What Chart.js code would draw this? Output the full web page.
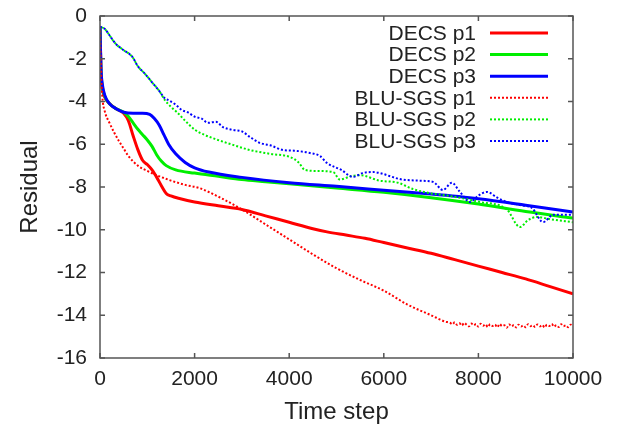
<!DOCTYPE html>
<html>
<head>
<meta charset="utf-8">
<script src="https://cdn.jsdelivr.net/npm/chart.js@4"></script>
<style>
  html, body { margin: 0; padding: 0; background: #fff; }
  #wrap { width: 621px; height: 427px; }
</style>
</head>
<body>
<div id="wrap"><canvas id="residualChart"></canvas></div>
<script>
var xTicks = [0, 2000, 4000, 6000, 8000, 10000];
var yTicks = [0, -2, -4, -6, -8, -10, -12, -14, -16];

var decsP1X = [0, 20, 50, 100, 200, 350, 500, 600, 700, 800, 900, 1000, 1100, 1200, 1300, 1400, 1500, 1700, 2000, 2500, 3000, 3500, 4000, 4500, 4800, 5200, 5600, 6000, 6500, 7000, 7500, 8000, 8500, 9000, 9500, 10000];
var decsP1Y = [-0.5, -2.6, -3.4, -3.8, -4.1, -4.35, -4.55, -4.9, -5.6, -6.25, -6.75, -6.95, -7.2, -7.55, -7.95, -8.3, -8.42, -8.55, -8.7, -8.88, -9.05, -9.35, -9.65, -9.95, -10.1, -10.25, -10.4, -10.6, -10.85, -11.1, -11.4, -11.7, -12.0, -12.3, -12.65, -13.0];

var decsP2X = [0, 20, 50, 100, 200, 350, 500, 600, 700, 800, 900, 1000, 1100, 1200, 1300, 1400, 1600, 2000, 2500, 3000, 3500, 4000, 5000, 6000, 7000, 8000, 9000, 10000];
var decsP2Y = [-0.5, -2.5, -3.3, -3.75, -4.1, -4.35, -4.5, -4.7, -5.0, -5.3, -5.55, -5.8, -6.1, -6.5, -6.8, -7.0, -7.2, -7.35, -7.5, -7.65, -7.75, -7.85, -8.05, -8.25, -8.5, -8.8, -9.15, -9.45];

var decsP3X = [0, 20, 50, 100, 200, 350, 500, 700, 900, 1050, 1150, 1250, 1350, 1450, 1600, 1800, 2000, 2300, 3000, 4000, 5000, 6000, 7000, 8000, 9000, 10000];
var decsP3Y = [-0.5, -2.4, -3.2, -3.7, -4.1, -4.35, -4.5, -4.55, -4.55, -4.6, -4.8, -5.1, -5.55, -6.0, -6.45, -6.85, -7.1, -7.3, -7.55, -7.8, -7.97, -8.15, -8.33, -8.55, -8.85, -9.17];

var bluP1X = [0, 20, 50, 100, 200, 300, 400, 500, 600, 800, 1000, 1200, 1500, 1800, 2100, 2500, 3000, 3500, 4000, 4500, 5000, 5500, 6000, 6500, 7000, 7300,
  7400, 7450, 7500, 7550, 7600, 7650, 7700, 7750, 7800, 7850, 7900, 7950, 8000, 8050, 8100, 8150, 8200, 8250, 8300, 8350, 8400, 8450, 8500, 8550,
  8600, 8650, 8700, 8750, 8800, 8850, 8900, 8950, 9000, 9050, 9100, 9150, 9200, 9250, 9300, 9350, 9400, 9450, 9500, 9550, 9600, 9650, 9700,
  9750, 9800, 9850, 9900, 9950, 10000];
var bluP1Y = [-0.5, -2.5, -3.8, -4.45, -5.0, -5.45, -5.85, -6.2, -6.55, -7.0, -7.25, -7.45, -7.7, -7.9, -8.05, -8.45, -9.05, -9.75, -10.45, -11.15, -11.8, -12.35, -12.85, -13.5, -14.0, -14.3,
  -14.35, -14.42, -14.33, -14.45, -14.38, -14.48, -14.36, -14.44, -14.52, -14.39, -14.47, -14.41, -14.53, -14.40, -14.49, -14.43, -14.55, -14.42, -14.50, -14.44, -14.56, -14.41, -14.51, -14.47,
  -14.58, -14.43, -14.52, -14.46, -14.57, -14.44, -14.53, -14.48, -14.56, -14.42, -14.51, -14.47, -14.55, -14.43, -14.52, -14.46, -14.57, -14.44, -14.50, -14.41, -14.53, -14.46, -14.55,
  -14.42, -14.51, -14.47, -14.56, -14.44, -14.50];

var bluP2X = [0, 100, 200, 320, 500, 680, 800, 950, 1100, 1250, 1370, 1500, 1650, 1800, 2010, 2200, 2430, 2700, 3170, 3600, 4020, 4200, 4330, 4600, 4930, 5070, 5300, 5500, 5900, 6300, 6620, 7000, 7340, 8030, 8600, 8880, 9050, 9240, 9500, 10000];
var bluP2Y = [-0.5, -0.6, -0.9, -1.27, -1.6, -1.9, -2.35, -2.7, -3.1, -3.5, -3.93, -4.25, -4.55, -4.9, -5.33, -5.55, -5.75, -5.95, -6.27, -6.45, -6.6, -6.85, -7.2, -7.25, -7.3, -7.65, -7.5, -7.45, -7.7, -7.8, -8.1, -8.3, -8.4, -8.7, -9.05, -9.87, -9.55, -9.4, -9.5, -9.65];

var bluP3X = [0, 100, 200, 320, 500, 680, 800, 950, 1100, 1250, 1370, 1440, 1600, 1730, 1850, 2010, 2150, 2280, 2450, 2600, 2810, 3000, 3170, 3380, 3600, 3870, 4100, 4440, 4650, 4800, 5100, 5350, 5550, 5770, 5920, 6340, 6700, 7040, 7250, 7440, 7600, 7820, 8000, 8180, 8400, 8600, 8900, 9130, 9370, 9580, 10000];
var bluP3Y = [-0.5, -0.6, -0.9, -1.27, -1.6, -1.9, -2.35, -2.7, -3.1, -3.5, -3.85, -3.93, -4.15, -4.4, -4.5, -4.72, -4.8, -5.0, -4.95, -5.2, -5.33, -5.4, -5.66, -5.94, -6.05, -6.27, -6.3, -6.41, -6.55, -6.88, -7.2, -7.53, -7.35, -7.3, -7.35, -7.63, -7.7, -7.76, -8.14, -7.8, -8.2, -8.7, -8.4, -8.23, -8.5, -8.7, -8.85, -8.98, -9.64, -9.3, -9.3];

var seriesLabels = ['DECS p1', 'DECS p2', 'DECS p3', 'BLU-SGS p1', 'BLU-SGS p2', 'BLU-SGS p3'];
var seriesColors = ['#ff0000', '#00ee00', '#0000ff', '#ff0000', '#00ee00', '#0000ff'];

function toPoints(xs, ys) {
  return xs.map(function (x, i) { return { x: x, y: ys[i] }; });
}

var seriesData = [
  toPoints(decsP1X, decsP1Y),
  toPoints(decsP2X, decsP2Y),
  toPoints(decsP3X, decsP3Y),
  toPoints(bluP1X, bluP1Y),
  toPoints(bluP2X, bluP2Y),
  toPoints(bluP3X, bluP3Y)
];

var datasets = seriesData.map(function (pts, i) {
  var dotted = i >= 3;
  return {
    label: seriesLabels[i],
    data: pts,
    borderColor: seriesColors[i],
    borderWidth: dotted ? 2 : 3,
    borderDash: dotted ? [2, 2] : [],
    borderDashOffset: i === 4 ? 2 : 0,   // let the green dots show between the blue ones where they overlap
    pointRadius: 0,
    fill: false,
    cubicInterpolationMode: 'monotone'
  };
}).reverse();

var FONT = '"Liberation Sans", Arial, sans-serif';
var frameColor = '#555';

// frame, inward ticks on all four sides, and the legend in the top right corner
var framePlugin = {
  id: 'frame',
  afterDatasetsDraw: function (chart) {
    var c = chart.ctx, a = chart.chartArea;
    var xs = chart.scales.x, ys = chart.scales.y;
    c.save();
    c.strokeStyle = frameColor;
    c.lineWidth = 1.5;
    c.strokeRect(a.left, a.top, a.right - a.left, a.bottom - a.top);
    c.beginPath();
    xTicks.forEach(function (v) {
      var px = xs.getPixelForValue(v);
      c.moveTo(px, a.bottom); c.lineTo(px, a.bottom - 5);
      c.moveTo(px, a.top); c.lineTo(px, a.top + 5);
    });
    yTicks.forEach(function (v) {
      var py = ys.getPixelForValue(v);
      c.moveTo(a.left, py); c.lineTo(a.left + 5, py);
      c.moveTo(a.right, py); c.lineTo(a.right - 5, py);
    });
    c.stroke();

    // legend
    c.font = '21px ' + FONT;
    c.textAlign = 'right';
    c.textBaseline = 'middle';
    seriesLabels.forEach(function (lab, i) {
      var y = a.top + 17 + i * 21.6;
      c.fillStyle = '#222';
      c.fillText(lab, a.right - 97, y + 1);
      c.strokeStyle = seriesColors[i];
      c.lineWidth = i >= 3 ? 2 : 3;
      c.setLineDash(i >= 3 ? [2, 2] : []);
      c.beginPath();
      c.moveTo(a.right - 83, y);
      c.lineTo(a.right - 25, y);
      c.stroke();
    });
    c.restore();
  }
};

document.addEventListener("DOMContentLoaded", function () {
  var ctx = document.getElementById('residualChart').getContext('2d');
  new Chart(ctx, {
    type: 'line',
    data: { datasets: datasets },
    options: {
      responsive: true,
      maintainAspectRatio: false,
      animation: false,
      layout: { padding: { top: 16, right: 48, left: 0, bottom: 0 } },
      plugins: {
        legend: { display: false },
        tooltip: { enabled: false }
      },
      scales: {
        x: {
          type: 'linear',
          min: 0,
          max: 10000,
          afterBuildTicks: function (s) { s.ticks = xTicks.map(function (v) { return { value: v }; }); },
          afterFit: function (s) { s.height = 69; s.paddingLeft = 0; s.paddingRight = 0; },
          grid: { display: false, drawTicks: false },
          border: { display: false },
          ticks: { color: '#222', font: { family: FONT, size: 21 }, padding: 9, maxRotation: 0,
            callback: function (v) { return String(v); } },
          title: { display: true, text: 'Time step', color: '#222', font: { family: FONT, size: 24, lineHeight: 1 }, padding: { top: 0, bottom: 3 } }
        },
        y: {
          type: 'linear',
          min: -16,
          max: 0,
          afterBuildTicks: function (s) { s.ticks = yTicks.map(function (v) { return { value: v }; }); },
          afterFit: function (s) { s.width = 100; s.paddingTop = 0; s.paddingBottom = 0; },
          grid: { display: false, drawTicks: false },
          border: { display: false },
          ticks: { color: '#222', font: { family: FONT, size: 21 }, padding: 13 },
          title: { display: true, text: 'Residual', color: '#222', font: { family: FONT, size: 24, lineHeight: 1 }, padding: { top: 18, bottom: 0 } }
        }
      }
    },
    plugins: [framePlugin]
  });
});
</script>
</body>
</html>
